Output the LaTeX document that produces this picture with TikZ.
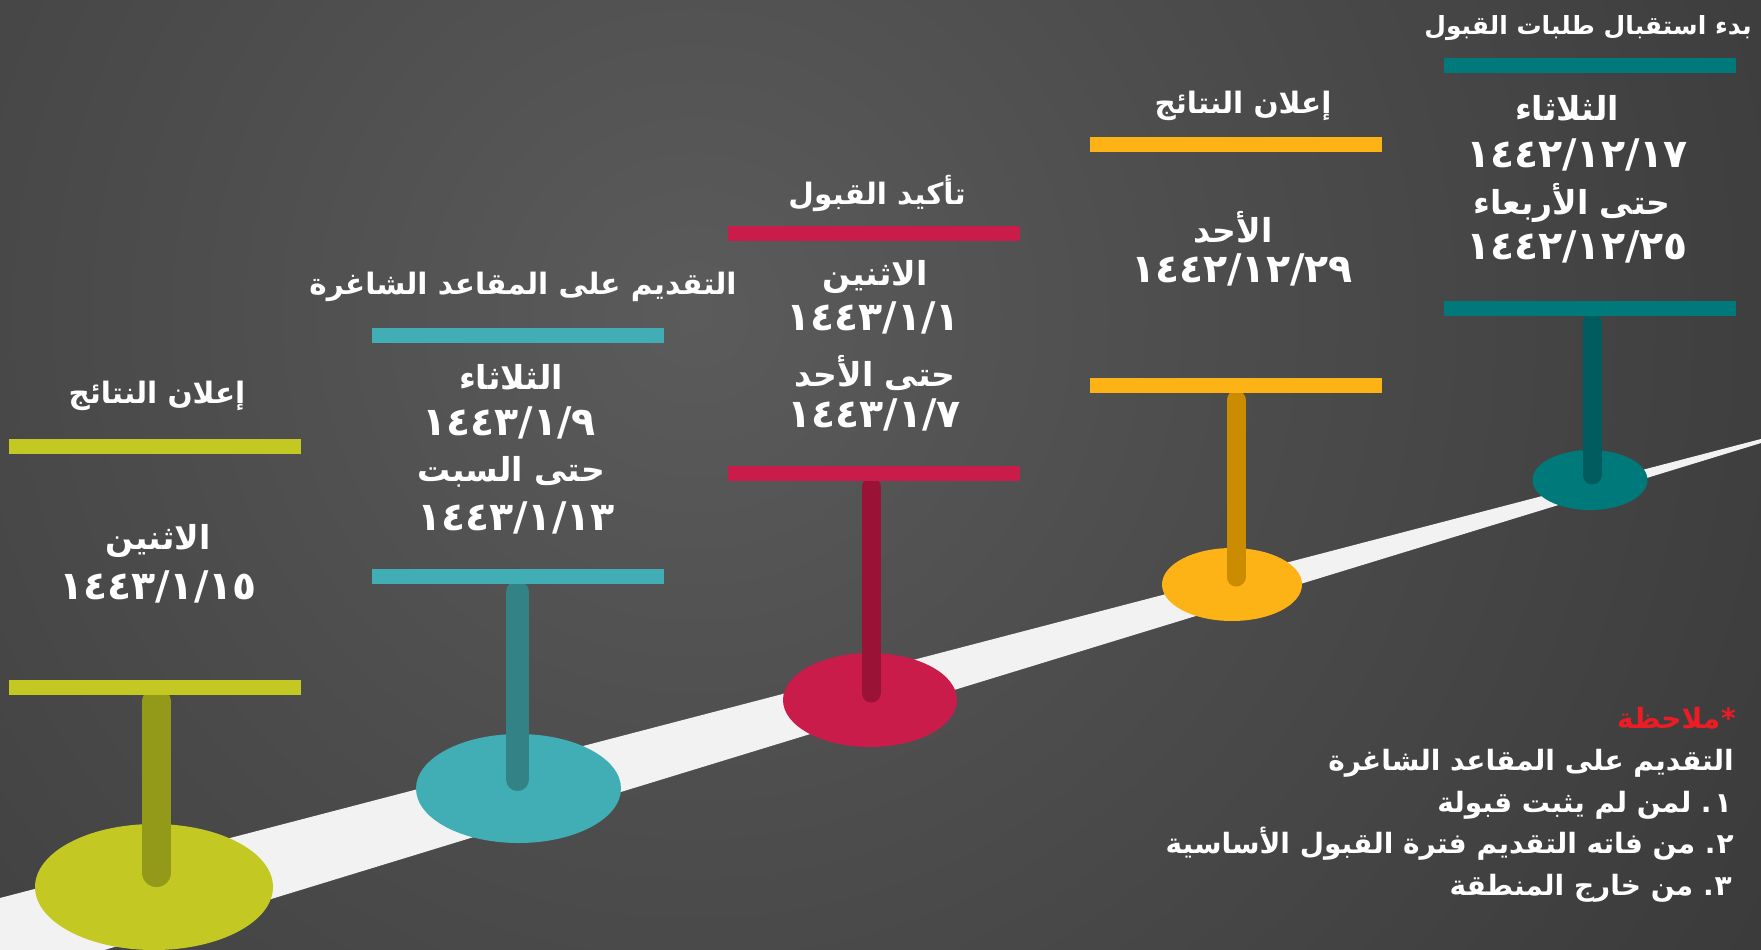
\documentclass[tikz,border=0pt]{standalone}
\usepackage{fontspec}
\usetikzlibrary{shapes.geometric}
\TeXXeTstate=1
\newfontfamily\arb[Script=Arabic]{DejaVu Sans}
\newcommand\RTx[1]{\beginR #1\endR}
\definecolor{road}{HTML}{F2F2F2}
\definecolor{cA}{HTML}{C3C822}\definecolor{sA}{HTML}{939A1A}
\definecolor{cB}{HTML}{41AEB6}\definecolor{sB}{HTML}{338286}
\definecolor{cC}{HTML}{C91C4A}\definecolor{sC}{HTML}{9B1237}
\definecolor{cD}{HTML}{FDB216}\definecolor{sD}{HTML}{CC8C00}
\definecolor{cE}{HTML}{00797B}\definecolor{sE}{HTML}{005C5E}
\definecolor{notered}{HTML}{ED1C24}
\definecolor{g0}{HTML}{5B5B5B}
\definecolor{g1}{HTML}{4D4D4D}
\definecolor{g2}{HTML}{3E3E3E}
\definecolor{g3}{HTML}{333333}
\definecolor{g4}{HTML}{2B2B2B}
\definecolor{g5}{HTML}{282828}
\pgfdeclareradialshading{bgshade}{\pgfpoint{0bp}{0bp}}{color(0bp)=(g0); color(9bp)=(g1); color(19.6bp)=(g2); color(28.6bp)=(g3); color(39.3bp)=(g4); color(50bp)=(g5)}
\begin{document}
\begin{tikzpicture}[x=1pt,y=-1pt,
  bar/.style={rectangle,fill=#1,draw=none,minimum width=292pt,minimum height=15pt,inner sep=0pt},
  disc/.style={ellipse,fill=#1,draw=none,inner sep=0pt},
  stem/.style={draw=#1,line cap=round},
  ttl/.style={text=white,inner sep=0pt,font=\arb\bfseries\fontsize{29.5}{32}\selectfont},
  day/.style={text=white,inner sep=0pt,font=\arb\bfseries\fontsize{33}{36}\selectfont},
  dt/.style={text=white,inner sep=0pt,font=\arb\bfseries\fontsize{39.5}{42}\selectfont},
  nt/.style={text=white,inner sep=0pt,anchor=east,font=\arb\bfseries\fontsize{28}{30}\selectfont}]
\useasboundingbox (0,0) rectangle (1761,950);
\clip (0,0) rectangle (1761,950);
% background
\fill[g5] (0,0) rectangle (1761,950);
\shade[shading=bgshade] (695,315) circle (1400);
% road
\fill[road] (0,898) -- (1761,439) -- (1761,443) -- (0,982) -- cycle;

% ---- column A (green)
\node[disc=cA,minimum width=238pt,minimum height=126pt] (eA) at (154,887) {};
\coordinate (kA) at (156.5,872.5);
\draw[stem=sA,line width=29pt] (156.5,702) -- (kA);
\node[bar=cA] (tA) at (155,446.5) {};
\node[bar=cA] (bA) at (155,687.5) {};
\node[ttl] (hA) at (157,396) {\RTx{إعلان النتائج}};
\node[day] (dA1) at (158,541) {الاثنين};
\node[dt] (dA2) at (158,587) {١٤٤٣/١/١٥};

% ---- column B (light teal)
\node[disc=cB,minimum width=205pt,minimum height=109pt] (eB) at (518.5,788.5) {};
\coordinate (kB) at (517.5,779.5);
\draw[stem=sB,line width=23pt] (517.5,592) -- (kB);
\node[bar=cB] (tB) at (518,335.5) {};
\node[bar=cB] (bB) at (518,576.5) {};
\node[ttl] (hB) at (523,287) {\RTx{التقديم على المقاعد الشاغرة}};
\node[day] (dB1) at (511,377) {الثلاثاء};
\node[dt] (dB2) at (509,423) {١٤٤٣/١/٩};
\node[day] (dB3) at (511,472) {\RTx{حتى السبت}};
\node[dt] (dB4) at (516,518) {١٤٤٣/١/١٣};

% ---- column C (crimson)
\node[disc=cC,minimum width=174pt,minimum height=94pt] (eC) at (870,700) {};
\coordinate (kC) at (871,693);
\draw[stem=sC,line width=19pt] (871,487) -- (kC);
\node[bar=cC] (tC) at (873.5,233) {};
\node[bar=cC] (bC) at (873.5,473) {};
\node[ttl] (hC) at (877,193) {\RTx{تأكيد القبول}};
\node[day] (dC1) at (875,277) {الاثنين};
\node[dt] (dC2) at (873,318) {١٤٤٣/١/١};
\node[day] (dC3) at (875,373) {\RTx{حتى الأحد}};
\node[dt] (dC4) at (874,415) {١٤٤٣/١/٧};

% ---- column D (amber)
\node[disc=cD,minimum width=140pt,minimum height=73pt] (eD) at (1232,584.5) {};
\coordinate (kD) at (1236,577);
\draw[stem=sD,line width=19pt] (1236,400) -- (kD);
\node[bar=cD] (tD) at (1236,144.5) {};
\node[bar=cD] (bD) at (1236,385.5) {};
\node[ttl] (hD) at (1243,106) {\RTx{إعلان النتائج}};
\node[day] (dD1) at (1233,227) {الأحد};
\node[dt] (dD2) at (1242,270) {١٤٤٢/١٢/٢٩};

% ---- column E (dark teal)
\node[disc=cE,minimum width=115pt,minimum height=60pt] (eE) at (1590,480) {};
\coordinate (kE) at (1592,475);
\draw[stem=sE,line width=19pt] (1592,323) -- (kE);
\node[bar=cE] (tE) at (1590,65.5) {};
\node[bar=cE] (bE) at (1590,308.5) {};
\node[ttl,font=\arb\bfseries\fontsize{25}{28}\selectfont] (hE) at (1588,28) {\RTx{بدء استقبال طلبات القبول}};
\node[day] (dE1) at (1567,108) {الثلاثاء};
\node[dt] (dE2) at (1577,155) {١٤٤٢/١٢/١٧};
\node[day] (dE3) at (1572,203) {\RTx{حتى الأربعاء}};
\node[dt] (dE4) at (1577,247) {١٤٤٢/١٢/٢٥};

% ---- note
\node[nt,text=notered] (n0) at (1736,718) {\RTx{*\kern1pt ملاحظة}};
\node[nt] (n1) at (1734,763) {\RTx{التقديم على المقاعد الشاغرة}};
\node[nt] (n2) at (1732,805) {\RTx{١\kern3pt.\ لمن لم يثبت قبولة}};
\node[nt] (n3) at (1734,844) {\RTx{٢\kern1pt.\ من فاته التقديم فترة القبول الأساسية}};
\node[nt] (n4) at (1732,888) {\RTx{٣\kern1pt.\ من خارج المنطقة}};
\end{tikzpicture}
\end{document}
